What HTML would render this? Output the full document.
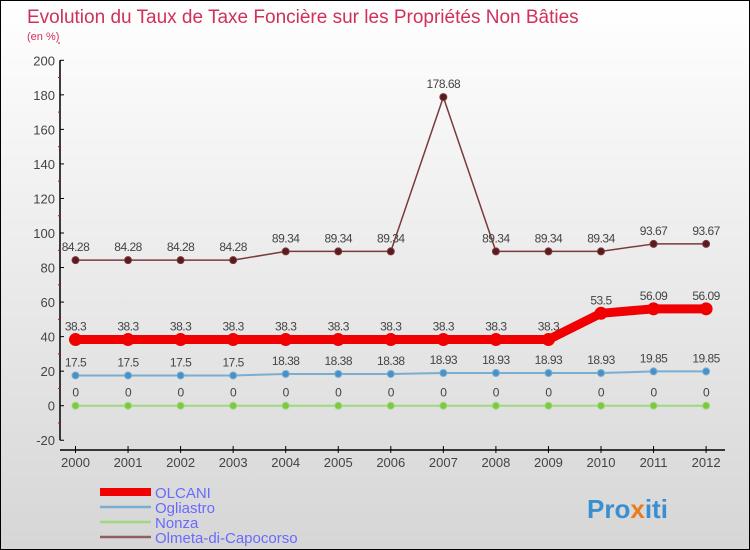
<!DOCTYPE html>
<html><head><meta charset="utf-8"><style>
body{margin:0}
#c{width:750px;height:550px;position:relative;box-sizing:border-box;border:1px solid #000;background:linear-gradient(#ffffff,#d6d6d6);overflow:hidden;font-family:"Liberation Sans",sans-serif}
</style></head><body>
<div id="c">
<svg id="s" width="750" height="550" style="position:absolute;left:-1px;top:-1px">
<text x="27" y="23" font-size="19" fill="#d0305a">Evolution du Taux de Taxe Foncière sur les Propriétés Non Bâties</text>
<text x="27" y="40" font-size="11" fill="#d0305a">(en %)</text>
<text x="587" y="518" font-size="26" font-weight="bold" fill="#3a8fd0">Pro<tspan fill="#e87c20">x</tspan>iti</text>
</svg>
</div>
<script>
const years=[2000,2001,2002,2003,2004,2005,2006,2007,2008,2009,2010,2011,2012];
const olcani=[38.3,38.3,38.3,38.3,38.3,38.3,38.3,38.3,38.3,38.3,53.5,56.09,56.09];
const ogliastro=[17.5,17.5,17.5,17.5,18.38,18.38,18.38,18.93,18.93,18.93,18.93,19.85,19.85];
const nonza=[0,0,0,0,0,0,0,0,0,0,0,0,0];
const olmeta=[84.28,84.28,84.28,84.28,89.34,89.34,89.34,178.68,89.34,89.34,89.34,93.67,93.67];
const yTicks=[-20,0,20,40,60,80,100,120,140,160,180,200];
const NS='http://www.w3.org/2000/svg';
const s=document.getElementById('s');
const X=i=>75.5+i*52.55;
const Y=v=>405.7-v*1.727;
function el(t,a,p){const e=document.createElementNS(NS,t);for(const k in a)e.setAttribute(k,a[k]);(p||s).appendChild(e);return e;}
// axes
let ya=el('line',{x1:60,y1:Y(200),x2:60,y2:Y(-20),stroke:'#000','stroke-width':1.5});


let xa=el('line',{x1:60,y1:450,x2:725,y2:450,stroke:'#000','stroke-width':1.5});


yTicks.forEach(v=>{
 el('line',{x1:60,y1:Y(v),x2:64,y2:Y(v),stroke:'#000'});
 el('line',{x1:58,y1:Y(v+10),x2:60,y2:Y(v+10),stroke:'#e00'});
 const t=el('text',{x:55,y:Y(v)+5,'text-anchor':'end','font-size':13,fill:'#444'});t.textContent=v;
 
 
});
years.forEach((y,i)=>{
 el('line',{x1:X(i),y1:446,x2:X(i),y2:453,stroke:'#000'});
 const t=el('text',{x:X(i),y:467,'text-anchor':'middle','font-size':13,fill:'#444'});t.textContent=y;
 
 
});
function series(data,color,w,r,dot,name,lab){
 const g=el('g',{});
 
 
 el('polyline',{points:data.map((v,i)=>X(i)+','+Y(v)).join(' '),fill:'none',stroke:color,'stroke-width':w,'stroke-linejoin':'round'},g);
 data.forEach((v,i)=>{
  const c=el('circle',{cx:X(i),cy:Y(v),r:r,fill:dot,stroke:color,'stroke-width':1},g);
  
  
  const t=el('text',{x:X(i),y:Y(v)-9,'text-anchor':'middle','font-size':12,fill:lab,'letter-spacing':'-0.5'},g);t.textContent=v;
  
  
 });
}
series(nonza,'#a0d880',2,3.5,'#7cc840','nonza','#444');
series(ogliastro,'#7aaed0',2,3.5,'#4a90c8','ogliastro','#444');
series(olmeta,'#7a3a3a',1.5,3.5,'#5a1a20','olmeta','#444');
series(olcani,'#f00000',9,6,'#f00000','olcani','#444');
// legend
const leg=[['OLCANI','#f00000',8],['Ogliastro','#7aaed0',2.5],['Nonza','#a0d880',2.5],['Olmeta-di-Capocorso','#906060',2.5]];
leg.forEach((l,i)=>{
 const y=492+i*15;
 const g=el('g',{});
 
 
 el('line',{x1:100,y1:y,x2:151,y2:y,stroke:l[1],'stroke-width':l[2]},g);
 const t=el('text',{x:155,y:y+6,'font-size':15,fill:'#6a6aff'},g);t.textContent=l[0];
});
</script>
</body></html>
